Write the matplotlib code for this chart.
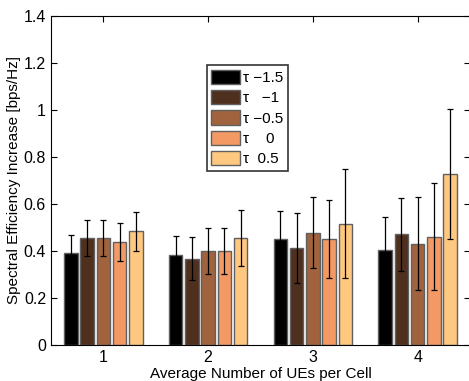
import numpy as np
import matplotlib.pyplot as plt

plt.rcParams['font.family'] = ['Liberation Sans', 'DejaVu Sans']

groups = [1, 2, 3, 4]
labels = ['τ −1.5', 'τ   −1', 'τ −0.5', 'τ    0', 'τ  0.5']
colours = ['#000000', '#4f301f', '#a0633e', '#f29964', '#ffc880']

values = [
    [0.391, 0.382, 0.452, 0.403],
    [0.457, 0.368, 0.413, 0.471],
    [0.457, 0.402, 0.478, 0.432],
    [0.439, 0.402, 0.452, 0.461],
    [0.484, 0.456, 0.517, 0.729],
]
errors = [
    [0.076, 0.081, 0.120, 0.142],
    [0.076, 0.090, 0.149, 0.155],
    [0.076, 0.098, 0.150, 0.198],
    [0.081, 0.098, 0.167, 0.228],
    [0.082, 0.119, 0.230, 0.276],
]

fig = plt.figure(figsize=(4.69, 3.81), dpi=100)
ax = fig.add_axes([0.1087, 0.0937, 0.8935, 0.8651])

x = np.array(groups)
width = 0.13
step = 0.155
for i in range(len(labels)):
    pos = x + (i - 2) * step
    ax.bar(pos, values[i], width, color=colours[i], edgecolor='#606060',
           linewidth=1, label=labels[i], zorder=2)
    ax.errorbar(pos, values[i], yerr=errors[i], fmt='none', ecolor='black',
                elinewidth=0.9, capsize=2.5, capthick=0.9, zorder=3)

ax.set_xlim(0.5, 4.5)
ax.set_ylim(0, 1.4)
ax.set_xticks(groups)
ax.set_yticks([0, 0.2, 0.4, 0.6, 0.8, 1, 1.2, 1.4])
ax.set_yticklabels(['0', '0.2', '0.4', '0.6', '0.8', '1', '1.2', '1.4'])
ax.tick_params(direction='in', top=True, right=True, labelsize=11.5, length=4)
ax.set_xlabel('Average Number of UEs per Cell', fontsize=11, labelpad=1)
ax.set_ylabel('Spectral Efficiency Increase [bps/Hz]', fontsize=11, labelpad=2)

leg = ax.legend(loc='upper left', bbox_to_anchor=(0.372, 0.850), fontsize=11,
                frameon=True, fancybox=False, edgecolor='black',
                handlelength=1.9, handleheight=1.05, handletextpad=0.15,
                labelspacing=0.33, borderpad=0.3, borderaxespad=0)
leg.get_frame().set_linewidth(1.2)

plt.savefig('out.png', dpi=100)
